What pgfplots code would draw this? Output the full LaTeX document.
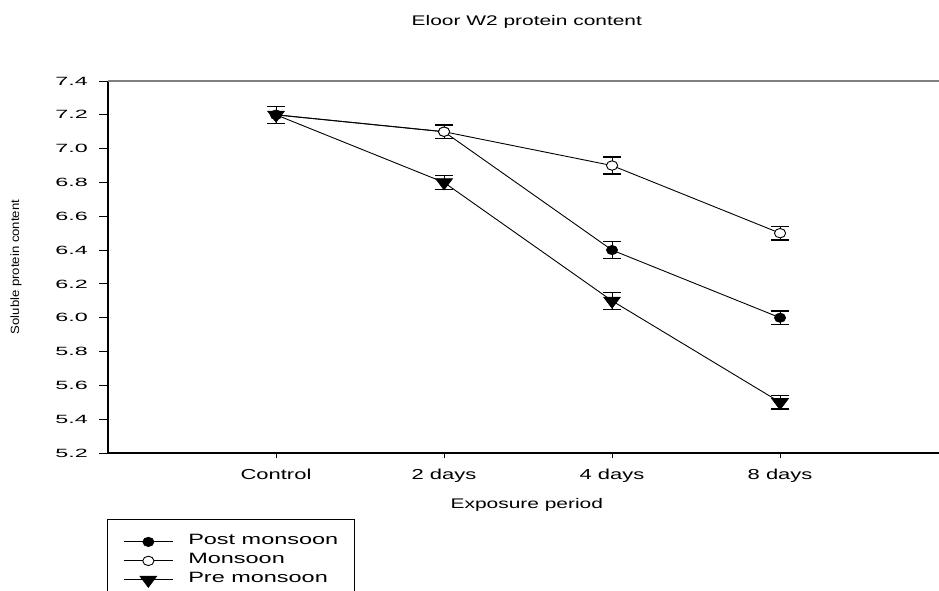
\documentclass[border=0pt]{standalone}
\usepackage{pgfplots}
\pgfplotsset{compat=1.18}
\usepackage{fontspec}
\setmainfont{Liberation Sans}

\begin{document}
\begin{tikzpicture}
\path[use as bounding box] (0,0) rectangle (939bp,591bp);
\clip (0,0) rectangle (939bp,591bp);
\begin{axis}[
  at={(108bp,138bp)}, anchor=south west,
  scale only axis, width=831bp, height=372bp,
  xmin=-1, xmax=3.946, ymin=5.2, ymax=7.4,
  axis x line*=bottom, axis y line*=left,
  axis line style={-, line width=1.2bp, black},
  tick align=outside, major tick length=9bp,
  tick style={black, line width=0.9bp},
  x tick style={/pgfplots/major tick length=5bp},
  xtick={0,1,2,3},
  xticklabels={\scalebox{1.52}[1]{Control},\scalebox{1.52}[1]{2 days},\scalebox{1.52}[1]{4 days},\scalebox{1.52}[1]{8 days}},
  xticklabel style={font=\fontsize{14.5}{14.5}\selectfont, anchor=base, inner sep=0pt, yshift=-17bp},
  ytick={5.2,5.4,5.6,5.8,6.0,6.2,6.4,6.6,6.8,7.0,7.2,7.4},
  yticklabel={\scalebox{1.95}[1]{\pgfmathprintnumber[fixed,fixed zerofill,precision=1,assume math mode=true]{\tick}}},
  yticklabel style={font=\fontsize{12}{12}\selectfont, anchor=east, inner sep=0pt, xshift=-11bp},
  every axis title shift=0pt,
  title={\scalebox{1.5}[1]{Eloor W2 protein content}},
  title style={at={(axis description cs:0.504,1.150)}, anchor=base, inner sep=0pt, font=\fontsize{14}{14}\selectfont},
  xlabel={\scalebox{1.5}[1]{Exposure period}},
  xlabel style={at={(axis description cs:0.504,-0.1505)}, anchor=base, inner sep=0pt, font=\fontsize{14}{14}\selectfont},
  ylabel={\scalebox{1.1}[1]{Soluble protein content}},
  ylabel style={at={(axis description cs:-0.1107,0.5)}, anchor=center, inner sep=0pt, font=\fontsize{12}{12}\selectfont},
  legend style={at={(axis description cs:-0.0012,-0.1774)}, anchor=north west,
    draw=black, line width=0.8bp, fill=white, inner xsep=16bp, inner ysep=13bp,
    /tikz/row sep=0pt, /tikz/column sep=0pt,
    font=\fontsize{15}{15}\selectfont,
    nodes={inner sep=0pt, text height=12bp, text depth=7bp}},
  legend cell align=left,
  legend image code/.code={
    \draw[mark repeat=2, mark phase=2, line width=0.9bp] plot coordinates {(0bp,0bp) (24.5bp,0bp) (49bp,0bp)};
    \path (64bp,0bp);
  },
  error bars/error bar style={black, line width=0.9bp},
  error bars/error mark options={black, rotate=90, mark size=9bp, line width=1.2bp},
  clip=false,
]
\draw[gray, line width=1.5bp] (rel axis cs:0,1) -- (rel axis cs:1,1);

\addplot[black, line width=0.9bp, mark=*, mark size=4.7bp, mark options={fill=black, xscale=1.2, line width=0.6bp},
  error bars/.cd, y dir=both, y explicit]
  coordinates {(0,7.2) +- (0,0.05) (1,7.1) +- (0,0.04) (2,6.4) +- (0,0.05) (3,6.0) +- (0,0.04)};
\addlegendentry{\scalebox{1.57}[1]{Post monsoon}}

\addplot[black, line width=0.9bp, mark=*, mark size=4.7bp, mark options={fill=white, xscale=1.2, line width=0.9bp},
  error bars/.cd, y dir=both, y explicit]
  coordinates {(0,7.2) +- (0,0.05) (1,7.1) +- (0,0.04) (2,6.9) +- (0,0.05) (3,6.5) +- (0,0.04)};
\addlegendentry{\scalebox{1.57}[1]{Monsoon}}

\addplot[black, line width=0.9bp, mark=triangle*, mark size=7.5bp, mark options={fill=black, rotate=180, xscale=1.3, line width=0.6bp},
  error bars/.cd, y dir=both, y explicit]
  coordinates {(0,7.2) +- (0,0.05) (1,6.8) +- (0,0.04) (2,6.1) +- (0,0.05) (3,5.5) +- (0,0.04)};
\addlegendentry{\scalebox{1.57}[1]{Pre monsoon}}
\end{axis}
\end{tikzpicture}
\end{document}
